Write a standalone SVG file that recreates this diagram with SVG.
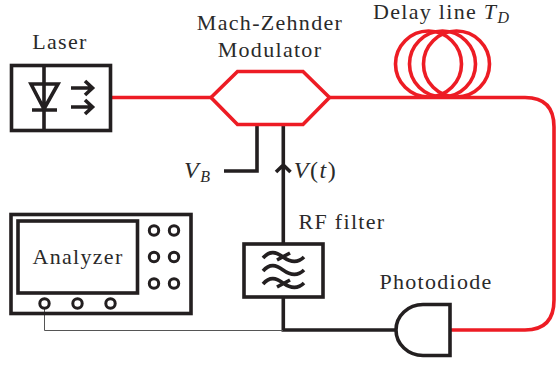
<svg xmlns="http://www.w3.org/2000/svg" width="556" height="368" viewBox="0 0 556 368">
<style>
text{font-family:"Liberation Serif","Times New Roman",serif;font-size:22px;letter-spacing:1.3px;fill:#2a2a2a;text-anchor:middle}
.i{font-style:italic}
.m{font-size:24px;letter-spacing:1.5px}
.s{font-size:16px;font-style:italic;letter-spacing:0}
.k{fill:none;stroke:#231f20;stroke-width:3.6}
.r{fill:none;stroke:#ed1c24;stroke-width:3.6}
.t{fill:none;stroke:#555;stroke-width:1}
.b{fill:#fff;stroke:#231f20;stroke-width:3.6}
.n{fill:#fff;stroke:#231f20;stroke-width:3}
</style>
<g id="connectors">
<path class="r" d="M111 97.500H211M330 97.500H525Q554 97.500 554 127V300Q554 330 525 330H450"/>
<path class="k" d="M257 125V171H224M283.300 125V243M276 172L283.300 165L290.500 172M283.300 297V330H396"/>
<path class="t" d="M44.500 304V330.500H283"/>
</g>
<g id="laser">
<rect class="b" x="11.500" y="65.500" width="99" height="65"/>
<path class="k" d="M44 65V131M31 84H58L44 109ZM32 110H57M71 88H92M85 81L92.500 88L85 95M71 107H92M85 100L92.500 107L85 114"/>
<text x="60" y="49">Laser</text>
</g>
<g id="mzm">
<path class="r" d="M211 97.500L237.500 71.500H303L329.500 97.500L303 124.500H237.500Z"/>
<text x="270" y="30">Mach-Zehnder</text>
<text x="270" y="57">Modulator</text>
</g>
<g id="delay-line">
<circle class="r" cx="428.500" cy="64" r="33"/>
<circle class="r" cx="442.500" cy="64" r="33"/>
<circle class="r" cx="456.500" cy="64" r="33"/>
<text x="441" y="19">Delay line <tspan class="i">T</tspan><tspan class="s" dy="4">D</tspan></text>
</g>
<g id="vb"><text x="197" y="178" class="i m">V<tspan class="s" dy="4">B</tspan></text></g>
<g id="vt"><text x="315.500" y="178" class="m"><tspan class="i">V</tspan>(<tspan class="i">t</tspan>)</text></g>
<g id="rf-filter">
<rect class="b" x="244" y="244" width="79" height="53"/>
<path class="k" d="M263 258C270 250 276 252 283 257S297 264 304 257M263 271C270 263 276 265 283 270S297 277 304 270M263 284C270 276 276 278 283 283S297 290 304 283M277 260L290 253M277 287L290 280"/>
<text x="342" y="229">RF filter</text>
</g>
<g id="photodiode">
<path class="b" d="M450 304.500H423A27 25.500 0 0 0 423 355.500H450Z"/>
<text x="436" y="289">Photodiode</text>
</g>
<g id="analyzer">
<rect class="k" x="11" y="214.500" width="180" height="99"/>
<rect class="k" x="18" y="221" width="119.500" height="72"/>
<text x="78" y="264">Analyzer</text>
<circle class="n" cx="154" cy="230.500" r="4.700"/><circle class="n" cx="174" cy="230.500" r="4.700"/>
<circle class="n" cx="154" cy="257" r="4.700"/><circle class="n" cx="174" cy="257" r="4.700"/>
<circle class="n" cx="154" cy="283.500" r="4.700"/><circle class="n" cx="174" cy="283.500" r="4.700"/>
<circle class="n" cx="44.500" cy="303.500" r="4.700"/><circle class="n" cx="77.500" cy="303.500" r="4.700"/><circle class="n" cx="110.500" cy="303.500" r="4.700"/>
</g>
</svg>
